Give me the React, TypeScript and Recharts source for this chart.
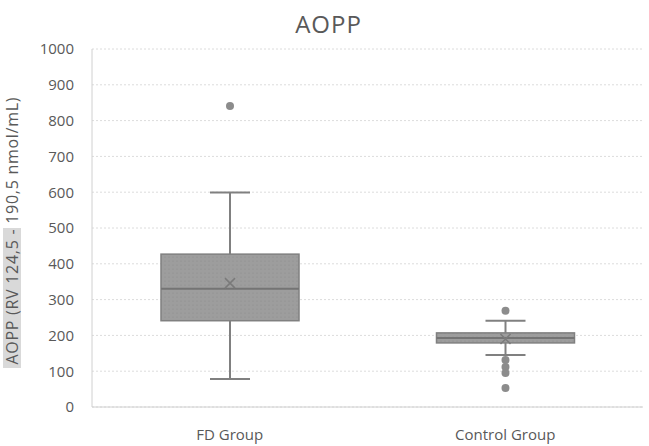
import React from "react";
import {
  Bar,
  CartesianGrid,
  ComposedChart,
  XAxis,
  YAxis,
} from "recharts";

// values
const categories = ["FD Group", "Control Group"];
const whiskerLow = [78, 145];
const quartile1 = [241, 179];
const medians = [330, 193];
const quartile3 = [427, 207];
const whiskerHigh = [599, 241];
const means = [346, 190];
const outliers = [[841], [269, 131, 112, 95, 53]];
const yTicks = [0, 100, 200, 300, 400, 500, 600, 700, 800, 900, 1000];

const rows = categories.map((name, i) => ({
  name,
  low: whiskerLow[i],
  q1: quartile1[i],
  median: medians[i],
  q3: quartile3[i],
  high: whiskerHigh[i],
  mean: means[i],
  outliers: outliers[i],
}));

const FONT = "'Open Sans', 'Noto Sans', sans-serif";
const TEXT = "#595959";
const LINE = "#808080";

function BoxShape(props: any) {
  const { x, y, width, height, payload, index } = props;
  const { q1, q3, low, high, median, mean } = payload;
  // y is the q3 pixel, y + height the q1 pixel; the scale is linear
  const per = height / (q3 - q1);
  const py = (v: number) => y + (q3 - v) * per;
  const cx = x + width / 2;
  const cap = 20;
  const id = `stip-${index}`;
  return (
    <g>
      <defs>
        <pattern id={id} width="4" height="4" patternUnits="userSpaceOnUse">
          <rect width="4" height="4" fill="#9d9d9d" />
          <circle cx="1" cy="1" r="0.6" fill="#8c8c8c" />
        </pattern>
      </defs>
      <line x1={cx} x2={cx} y1={py(high)} y2={y} stroke={LINE} strokeWidth={2} />
      <line x1={cx} x2={cx} y1={y + height} y2={py(low)} stroke={LINE} strokeWidth={2} />
      <line x1={cx - cap} x2={cx + cap} y1={py(high)} y2={py(high)} stroke={LINE} strokeWidth={2} />
      <line x1={cx - cap} x2={cx + cap} y1={py(low)} y2={py(low)} stroke={LINE} strokeWidth={2} />
      <rect x={x} y={y} width={width} height={height} fill={`url(#${id})`} stroke={LINE} strokeWidth={1.5} />
      <line x1={x} x2={x + width} y1={py(median)} y2={py(median)} stroke="#747474" strokeWidth={2} />
      <path
        d={`M${cx - 5},${py(mean) - 5}L${cx + 5},${py(mean) + 5}M${cx + 5},${py(mean) - 5}L${cx - 5},${py(mean) + 5}`}
        stroke="#7a7a7a"
        strokeWidth={1.5}
      />
      {payload.outliers.map((v: number, k: number) => (
        <circle key={k} cx={cx} cy={py(v)} r={4} fill="#8c8c8c" />
      ))}
    </g>
  );
}

function YLabel() {
  const cx = 12;
  const cy = 231;
  return (
    <g>
      <rect x={3} y={228} width={18} height={140} fill="#d9d9d9" />
      <text
        x={cx}
        y={cy}
        transform={`rotate(-90, ${cx}, ${cy})`}
        textAnchor="middle"
        dominantBaseline="central"
        fontFamily={FONT}
        fontSize={16}
        textLength={267}
        lengthAdjust="spacing"
        fill={TEXT}
      >
        AOPP (RV 124,5 - 190,5 nmol/mL)
      </text>
    </g>
  );
}

export default function App() {
  return (
    <div style={{ position: "absolute", left: 0, top: 0, width: 649, height: 446, background: "#fff" }}>
      <div
        style={{
          position: "absolute",
          top: 9,
          width: 649,
          paddingLeft: 4,
          textAlign: "center",
          fontFamily: FONT,
          fontSize: 24,
          letterSpacing: 1,
          color: TEXT,
          lineHeight: "30px",
        }}
      >
        AOPP
      </div>
      <ComposedChart
        width={649}
        height={446}
        data={rows}
        margin={{ top: 49, right: 6, bottom: 0, left: 0 }}
        barSize={138}
      >
        <CartesianGrid vertical={false} stroke="#dcdcdc" strokeDasharray="2 2" />
        <XAxis
          dataKey="name"
          tickLine={false}
          axisLine={{ stroke: "#d0d0d0" }}
          tick={{ fill: TEXT, fontSize: 15, fontFamily: FONT }}
          tickMargin={16}
          height={39}
        />
        <YAxis
          domain={[0, 1000]}
          ticks={yTicks}
          interval={0}
          width={92}
          tickLine={false}
          axisLine={{ stroke: "#d0d0d0" }}
          tick={{ fill: TEXT, fontSize: 15, fontFamily: FONT }}
          tickMargin={12}
          label={<YLabel />}
        />
        <Bar
          dataKey={(d: any) => [d.q1, d.q3]}
          shape={<BoxShape />}
          isAnimationActive={false}
        />
      </ComposedChart>
    </div>
  );
}
